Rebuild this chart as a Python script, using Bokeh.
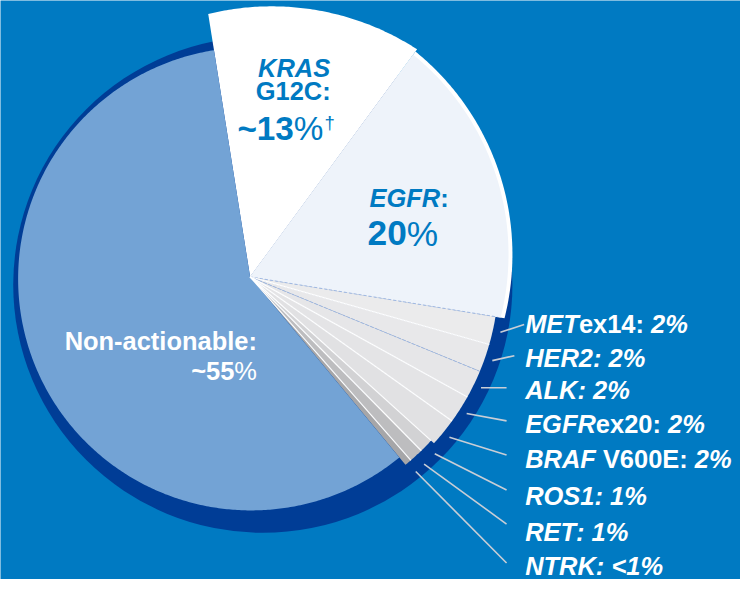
import math
from bokeh.plotting import figure
from bokeh.models import Range1d
from bokeh.embed import file_html
from bokeh.resources import INLINE
from bokeh.core.properties import value

# ---------------- data ----------------
# slices in clockwise order, starting at the left edge of the KRAS slice
slice_names = ["KRAS G12C", "EGFR", "METex14", "HER2", "ALK", "EGFRex20",
               "BRAF V600E", "ROS1", "RET", "NTRK", "Non-actionable"]
label_values = ["~13%", "20%", "2%", "2%", "2%", "2%", "2%", "1%", "1%", "<1%", "~55%"]
# share of the circle each slice takes as drawn (percent)
drawn_share = [12.5, 17.5, 1.83, 1.83, 1.83, 1.83, 1.83, 0.92, 0.92, 0.46, 58.3]

# right-hand legend rows (small slices)
small_gene = ["MET", "HER2", "ALK", "EGFR", "BRAF", "ROS1", "RET", "NTRK"]
small_suffix = ["ex14", "", "", "ex20", "V600E", "", "", ""]
small_pct = label_values[2:10]

# ---------------- styles / layout ----------------
BG = "#007AC2"
SHADOW = "#003D96"
slice_colors = ["#FFFFFF", "#EEF3FA", "#EBEBEC", "#E8E8EA", "#E6E6E8", "#E4E4E6",
                "#E1E1E3", "#D2D2D4", "#BDBDBF", "#A6A6A8", "#73A3D5"]
AX, AY = 255.0, 284.0          # common apex of the slices (reference pixel coords)
START = 99.0                    # math angle of KRAS left edge (deg)
outer = [((277, 278), 272), ((254, 261), 265)] + [((AX, AY), 254)] * 5 + \
        [((AX, AY), 250)] * 3 + [((256, 286), 238)]
FONT = value("Liberation Sans")
REF_W, REF_H = 756, 595
PW, PH = 740, 579
FS = PW / REF_W                 # font scale so that text keeps the reference proportions
BASE_SHIFT = -0.36              # baseline correction (in em)

W = {" ": 278, "%": 889, "-": 333, ":": 333, "<": 584, "~": 584, "A": 722, "B": 722,
     "C": 722, "E": 667, "F": 611, "G": 778, "H": 722, "K": 722, "L": 611, "M": 833,
     "N": 722, "O": 778, "R": 722, "S": 667, "T": 611, "V": 667, "a": 556, "b": 611,
     "c": 556, "e": 556, "i": 278, "l": 278, "n": 611, "o": 611, "t": 333, "x": 556,
     "\u2020": 556}


def tw(s, size):
    return sum(W.get(ch, 556) for ch in s) * size / 1000.0


def ray_point(theta, center, r):
    th = math.radians(theta)
    ux, uy = math.cos(th), -math.sin(th)
    dx, dy = AX - center[0], AY - center[1]
    b = dx * ux + dy * uy
    c = dx * dx + dy * dy - r * r
    t = -b + math.sqrt(b * b - c)
    return AX + t * ux, AY + t * uy


def wedge_poly(a0, a1, center, r):
    n = max(8, int(abs(a1 - a0) * 2))
    xs, ys = [AX], [AY]
    for i in range(n + 1):
        a = a0 + (a1 - a0) * i / n
        x, y = ray_point(a, center, r)
        xs.append(x)
        ys.append(y)
    return xs, ys


p = figure(width=PW, height=PH, output_backend="svg", toolbar_location=None,
           x_range=Range1d(0, REF_W), y_range=Range1d(REF_H, 0), min_border=0)
p.axis.visible = False
p.grid.visible = False
p.outline_line_color = None
p.background_fill_color = BG
p.border_fill_color = BG

# shadow disc
p.ellipse(x=[268], y=[292], width=510, height=510, fill_color=SHADOW, line_color=None)

# slice angles
total = sum(drawn_share)
bounds = [START]
for s in drawn_share:
    bounds.append(bounds[-1] - s / total * 360.0)

# white band along EGFR arc
bx, by = wedge_poly(bounds[1], bounds[2], (254, 261), 269)
p.patch(bx, by, fill_color="white", line_color=None)

xs_all, ys_all = [], []
for i in range(len(drawn_share)):
    xs, ys = wedge_poly(bounds[i], bounds[i + 1], outer[i][0], outer[i][1])
    xs_all.append(xs)
    ys_all.append(ys)
p.patches(xs_all, ys_all, fill_color=slice_colors, line_color=None)

# separators between the small slices
for k in range(2, 10):
    r = outer[k][1]
    x1, y1 = ray_point(bounds[k], (AX, AY), r if k > 2 else 256)
    if k in (2, 4):
        p.line([AX, x1], [AY, y1], line_color="#9FB8E2", line_width=1, line_dash="3 2")
    else:
        p.line([AX, x1], [AY, y1], line_color="white", line_width=1.2)

# leader lines
row_base = [342, 377, 410, 445, 481, 519, 556, 591]
lead_end_x = [535, 525, 517, 517, 517, 517, 517, 517]
lead_end_y = [333, 365, 398, 432, 467, 503, 538, 578]
lx, ly = [], []
for j in range(8):
    mid = (bounds[2 + j] + bounds[3 + j]) / 2.0
    th = math.radians(mid)
    sx, sy = AX + 262 * math.cos(th), AY - 262 * math.sin(th)
    lx.append([sx, lead_end_x[j]])
    ly.append([sy, lead_end_y[j]])
p.multi_line(lx, ly, line_color="#C9CED6", line_width=1.6)


def draw_segments(x, y, segs, color, align="left"):
    # segs: (text, style, size, dy, gap_before)
    total_w = sum(tw(s, sz) + g * sz / 1000.0 for s, st, sz, dy, g in segs)
    if align == "right":
        x -= total_w
    elif align == "center":
        x -= total_w / 2.0
    for s, st, sz, dy, g in segs:
        x += g * sz / 1000.0
        p.text(x=[x], y=[y + dy + BASE_SHIFT * sz], text=[s], text_font=FONT,
               text_font_size=value(f"{sz * FS:.2f}px"), text_font_style=value(st),
               text_color=color, text_align="left", text_baseline="alphabetic")
        x += tw(s, sz)


SP = W[" "]
# right-hand labels
for j in range(8):
    segs = [(small_gene[j], "bold italic", 26, 0, 0)]
    if small_suffix[j]:
        gap = SP if small_suffix[j][0].isupper() else 0
        segs.append((small_suffix[j] + ":", "bold", 26, 0, gap))
    else:
        segs.append((":", "bold italic", 26, 0, 0))
    segs.append((small_pct[j], "bold italic", 26, 0, SP))
    draw_segments(536, row_base[j], segs, "white")

# KRAS label
kras_gene, kras_var = slice_names[0].split(" ")
draw_segments(300, 79, [(kras_gene, "bold italic", 26, 0, 0)], BG, "center")
draw_segments(299, 102, [(kras_var + ":", "bold", 26, 0, 0)], BG, "center")
kv = label_values[0]
draw_segments(242, 144, [(kv[:-1], "bold", 34, 0, 0), ("%", "normal", 34, 0, 0),
                         ("\u2020", "normal", 19, -12, 60)], BG)

# EGFR label
draw_segments(377, 212, [(slice_names[1], "bold italic", 26, 0, 0),
                         (":", "bold", 26, 0, 0)], BG)
ev = label_values[1]
draw_segments(375, 252, [(ev[:-1], "bold", 36, 0, 0), ("%", "normal", 36, 0, 0)], BG)

# Non-actionable label
draw_segments(262, 359, [(slice_names[10] + ":", "bold", 26, 0, 0)], "white", "right")
nv = label_values[10]
draw_segments(262, 390, [(nv[:-1], "bold", 26, 0, 0), ("%", "normal", 26, 0, 0)],
              "white", "right")

open("out.html", "w").write(file_html(p, INLINE))
